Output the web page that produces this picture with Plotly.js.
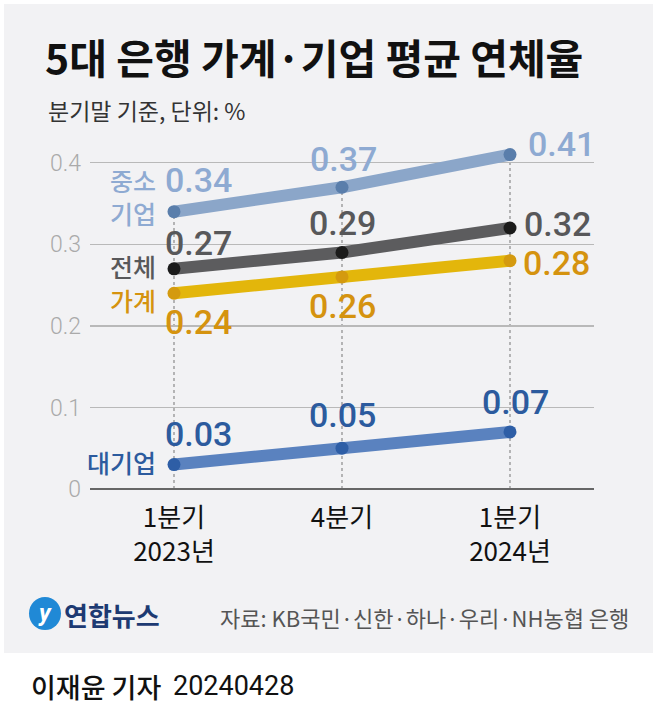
<!DOCTYPE html>
<html><head><meta charset="utf-8">
<script src="https://cdn.plot.ly/plotly-3.0.1.min.js"></script>
<style>html,body{margin:0;padding:0;background:#fff;}#chart{width:657px;height:716px;}</style>
</head><body><div id="chart"></div>
<script>
// ---- data ----
const categories = ["1분기<br>2023년", "4분기", "1분기<br>2024년"];
const seriesNames = ["중소<br>기업", "전체", "가계", "대기업"];
const smeValues = [0.34, 0.37, 0.41];
const totalValues = [0.27, 0.29, 0.32];
const householdValues = [0.24, 0.26, 0.28];
const largeValues = [0.03, 0.05, 0.07];
const yTickVals = [0, 0.1, 0.2, 0.3, 0.4];
const yTickText = ["0", "0.1", "0.2", "0.3", "0.4"];
const titleText = "5대 은행 가계·기업 평균 연체율";
const subtitleText = "분기말 기준, 단위: %";
const sourceText = "자료: KB국민·신한·하나·우리·NH농협 은행";
const bylineName = "이재윤 기자";
const bylineDate = "20240428";

// ---- layout geometry ----
const W = 657, H = 716, L = 90, R = 63, T = 122, B = 227;
const pw = W - L - R, ph = H - T - B;
const px2x = p => (p - L) / pw;
const py2y = p => (H - B - p) / ph;

const series = [
  {vals: smeValues, name: seriesNames[0], line: "#8ba6c9", marker: "#5a7eab", label: "#8eaad2",
   offs: [{xa:"left", xs:-11, ys:32}, {xa:"center", xs:1, ys:28}, {xa:"left", xs:16, ys:11}], nameY: 196},
  {vals: totalValues, name: seriesNames[1], line: "#5c5c5e", marker: "#1b1b1b", label: "#58585a",
   offs: [{xa:"left", xs:-11, ys:26}, {xa:"center", xs:0, ys:29}, {xa:"left", xs:12, ys:4}], nameY: 266},
  {vals: householdValues, name: seriesNames[2], line: "#e3b60b", marker: "#d49a0f", label: "#d5930f",
   offs: [{xa:"left", xs:-11, ys:-29}, {xa:"center", xs:0, ys:-29}, {xa:"left", xs:11, ys:-2}], nameY: 300},
  {vals: largeValues, name: seriesNames[3], line: "#5a82bf", marker: "#2e5ea6", label: "#2c5b9e",
   offs: [{xa:"left", xs:-11, ys:31}, {xa:"center", xs:0, ys:33}, {xa:"center", xs:5, ys:30}], nameY: 462}
];

const traces = series.map(s => ({
  x: categories, y: s.vals, type: "scatter", mode: "lines+markers",
  line: {color: s.line, width: 12}, marker: {color: s.marker, size: 13},
  hoverinfo: "skip", showlegend: false, cliponaxis: false
}));

const annotations = [];
series.forEach(s => {
  s.vals.forEach((v, i) => {
    const o = s.offs[i];
    annotations.push({x: categories[i], y: v, xref: "x", yref: "y", text: v.toFixed(2),
      showarrow: false, xanchor: o.xa, yanchor: "middle", xshift: o.xs, yshift: o.ys,
      font: {family: "Roboto, sans-serif", size: 34, weight: 500, color: s.label}});
  });
  annotations.push({x: px2x(158), y: py2y(s.nameY), xref: "paper", yref: "paper", text: s.name,
    showarrow: false, xanchor: "right", yanchor: "middle", align: "right",
    font: {family: "Noto Sans CJK KR", size: 25, weight: 500, color: s.label}});
});

annotations.push({x: px2x(46), y: py2y(110), xref: "paper", yref: "paper", text: subtitleText,
  showarrow: false, xanchor: "left", yanchor: "middle",
  font: {family: "Noto Sans CJK KR", size: 23, weight: 400, color: "#333"}});
annotations.push({x: px2x(631), y: py2y(617), xref: "paper", yref: "paper", text: sourceText,
  showarrow: false, xanchor: "right", yanchor: "middle",
  font: {family: "Noto Sans CJK KR", size: 22, weight: 400, color: "#555"}});
annotations.push({x: px2x(62), y: py2y(614), xref: "paper", yref: "paper", text: "<b>연합뉴스</b>",
  showarrow: false, xanchor: "left", yanchor: "middle",
  font: {family: "Noto Sans CJK KR", size: 26, weight: 900, color: "#1d3a72"}});
annotations.push({x: px2x(45), y: py2y(613), xref: "paper", yref: "paper", text: "<i><b>y</b></i>",
  showarrow: false, xanchor: "center", yanchor: "middle",
  font: {family: "Roboto, sans-serif", size: 24, color: "#ffffff"}});
annotations.push({x: px2x(29), y: py2y(686), xref: "paper", yref: "paper", text: bylineName,
  showarrow: false, xanchor: "left", yanchor: "middle",
  font: {family: "Noto Sans CJK KR", size: 27, weight: 500, color: "#111"}});
annotations.push({x: px2x(171), y: py2y(686), xref: "paper", yref: "paper", text: bylineDate,
  showarrow: false, xanchor: "left", yanchor: "middle",
  font: {family: "Roboto, sans-serif", size: 27, weight: 400, color: "#111"}});

const shapes = [
  {type: "rect", xref: "paper", yref: "paper", x0: px2x(4), x1: px2x(653), y0: py2y(653), y1: py2y(4),
   fillcolor: "#f2f2f4", line: {width: 0}, layer: "below"},
  {type: "circle", xref: "paper", yref: "paper", x0: px2x(29), x1: px2x(61), y0: py2y(630), y1: py2y(597),
   fillcolor: "#2089d6", line: {width: 0}, layer: "above"}
];
categories.forEach((c, i) => {
  const top = Math.max(...series.map(s => s.vals[i]));
  shapes.push({type: "line", xref: "x", yref: "y", x0: c, x1: c, y0: 0, y1: top,
    line: {color: "#8a8a8a", width: 1.2, dash: "dot"}, layer: "below"});
});

const layout = {
  width: W, height: H, margin: {l: L, r: R, t: T, b: B},
  paper_bgcolor: "#ffffff", plot_bgcolor: "rgba(0,0,0,0)",
  title: {text: titleText, xref: "container", yref: "container", x: 45/W, xanchor: "left",
    y: 1 - 60/H, yanchor: "middle",
    font: {family: "Noto Sans CJK KR", size: 41, weight: 700, color: "#111"}},
  xaxis: {type: "category", range: [-0.5, 2.5], showgrid: false, zeroline: false, showline: false,
    ticks: "", ticklabelstandoff: 11,
    tickfont: {family: "Noto Sans CJK KR", size: 26, color: "#111"}},
  yaxis: {range: [0, 0.45], tickvals: yTickVals, ticktext: yTickText, showgrid: true,
    gridcolor: "#b9b9b9", gridwidth: 1.3, zeroline: true, zerolinecolor: "#666", zerolinewidth: 2.5,
    showline: false, ticks: "", ticklabelstandoff: 8,
    tickfont: {family: "Roboto, sans-serif", size: 23, weight: 300, color: "#aaaaaa"}},
  shapes: shapes, annotations: annotations, showlegend: false, hovermode: false
};

Plotly.newPlot("chart", traces, layout, {displayModeBar: false, staticPlot: true});
</script></body></html>
